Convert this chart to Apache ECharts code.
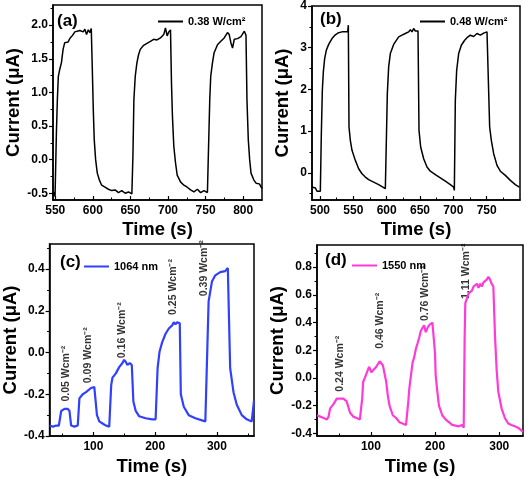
<!DOCTYPE html>
<html><head><meta charset="utf-8">
<script src="https://cdn.jsdelivr.net/npm/echarts@6/dist/echarts.min.js"></script>
<style>html,body{margin:0;padding:0;background:#fff}#c{width:526px;height:477px}</style>
</head><body><div id="c"></div><script>
// ---- Panel (a) ----
const timeA=[547,548.3,549.7,551.5,552.8,554.1,555.9,558.2,560.4,562.6,564.9,567.1,569.3,571.6,573.8,576,578.3,582.7,587.2,589.4,591.6,593.9,596.1,597.9,599.2,600.6,601.9,603.7,605.9,608.6,611.7,616.2,620.7,625.1,629.6,634.1,638.5,643,647.4,651.9,653.3,654.6,656.4,658.6,660.8,663.1,667.5,672,676.5,680.9,685.4,689.9,694.3,696.6,698.8,701,703.3,704.6,705.9,707.7,710,712.2,716.6,721.1,725.6,730,734.5,739,743.4,747.9,752.4,754.1,755.5,756.8,759.1,761.3,765.8,770.2,774.7,779.1,781.4,783.6,785.8,788.1,792.5,797,801.5,803.7,805,806.8,808.6,810.4,814,817.1,821.5,825];
const currA=[-0.53,-0.48,-0.55,0.39,0.89,1.24,1.34,1.44,1.64,1.74,1.76,1.75,1.80,1.83,1.86,1.90,1.91,1.92,1.90,1.94,1.86,1.93,1.89,1.95,1.39,0.74,0.29,0.0,-0.20,-0.30,-0.38,-0.41,-0.44,-0.46,-0.45,-0.49,-0.46,-0.50,-0.48,-0.51,0.05,0.89,1.24,1.44,1.56,1.64,1.70,1.73,1.76,1.79,1.78,1.81,1.86,1.96,1.84,1.90,1.93,1.14,0.64,0.20,-0.05,-0.23,-0.33,-0.38,-0.41,-0.45,-0.48,-0.44,-0.49,-0.46,-0.49,-0.48,0.89,1.24,1.44,1.59,1.71,1.76,1.81,1.89,1.86,1.74,1.66,1.79,1.80,1.83,1.91,1.85,0.89,0.29,0.0,-0.20,-0.30,-0.35,-0.36,-0.43];
const xTicksA=[550,600,650,700,750,800];
const yTicksA=[-0.5,0,0.5,1,1.5,2];
// ---- Panel (b) ----
const timeB=[488,490.5,493,495.5,498,500.5,502,503.5,505,507,509.5,513,518,523,528,533,541.5,542.5,543.5,545.5,548,553,558,563,568,573,580.5,588,593,598,599.5,601,603,605.5,610.5,618,623,628,633,635.5,638,640.5,643,645.5,647,648.5,651,655.5,660.5,665.5,673,680.5,688,695.5,700.5,701.5,703,705,708,712,717,720.5,725.5,730.5,735.5,740.5,745.5,750.5,753,754.5,757,760.5,765.5,770.5,778,785.5,793,799];
const currB=[-0.34,-0.38,-0.36,-0.44,-0.41,-0.44,0.94,1.98,2.42,2.74,2.94,3.08,3.22,3.31,3.36,3.38,3.38,3.54,1.10,0.78,0.54,0.30,0.10,-0.02,-0.10,-0.16,-0.22,-0.28,-0.33,-0.38,-0.42,1.90,2.54,2.86,3.08,3.26,3.30,3.34,3.38,3.43,3.38,3.46,3.40,3.43,3.40,1.02,0.62,0.34,0.14,0.04,-0.04,-0.12,-0.20,-0.28,-0.34,-0.42,1.74,2.46,2.86,3.06,3.18,3.24,3.30,3.27,3.34,3.30,3.35,3.38,3.34,1.10,0.78,0.46,0.18,0.04,-0.06,-0.18,-0.28,-0.34];
const xTicksB=[500,550,600,650,700,750];
const yTicksB=[0,1,2,3,4];
// ---- Panel (c) ----
const timeC=[29,34.4,39.7,44,46.2,47.8,53.1,58.5,61.2,63.9,69.2,74.6,75.7,77.3,82.7,88,96.1,101.4,103,104.1,105.7,109.5,114.8,120.2,125.6,127.2,128.8,130.9,136.3,141.7,147,149.7,152.4,155.1,158.8,162.1,163.1,164.7,168.5,173.9,184.6,195.3,200.7,202.3,203.9,207.1,211.4,216.8,222.1,227.5,230.2,232.9,235.6,238.2,239.8,241.5,246.3,254.3,265.1,275.8,281.2,283.8,286.5,291.9,297.3,305.3,313.3,317.6,318.7,321.4,326.8,332.1,340.2,348.2,356.3,359.5,360];
const currC=[-0.35,-0.355,-0.35,-0.35,-0.31,-0.28,-0.27,-0.27,-0.28,-0.35,-0.355,-0.35,-0.35,-0.22,-0.2,-0.19,-0.17,-0.165,-0.165,-0.17,-0.3,-0.33,-0.34,-0.35,-0.355,-0.355,-0.155,-0.12,-0.1,-0.07,-0.05,-0.035,-0.045,-0.06,-0.05,-0.06,-0.06,-0.235,-0.28,-0.305,-0.315,-0.32,-0.32,-0.32,-0.075,0.005,0.05,0.09,0.115,0.13,0.145,0.135,0.145,0.14,0.14,-0.2,-0.26,-0.3,-0.315,-0.325,-0.33,-0.33,0.245,0.34,0.37,0.385,0.39,0.405,0.40,-0.075,-0.19,-0.25,-0.3,-0.32,-0.33,-0.335,-0.23];
const xTicksC=[100,200,300];
const yTicksC=[-0.4,-0.2,0,0.2,0.4];
const annoTimeC=[55.8,92,147,229,278.5];
const annoCurrC=[-0.235,-0.147,-0.027,0.18,0.27];
const annoTextC=['0.05 Wcm\u207B\u00B2','0.09 Wcm\u207B\u00B2','0.16 Wcm\u207B\u00B2','0.25 Wcm\u207B\u00B2','0.39 Wcm\u207B\u00B2'];
// ---- Panel (d) ----
const timeD=[16,21.1,26.3,31.4,34,36.5,41.7,46.8,49.4,52,54.5,57.1,59.7,62.2,67.4,72.5,77.6,82.8,85.3,86.4,87.9,90.5,93,97.1,100.7,103.3,108.4,113.6,116.2,118.7,121.3,123.9,126.4,129,134.1,139.3,144.4,149.5,152.1,154.7,157.2,158.3,159.8,164.9,167.5,170.1,172.7,175.2,177.8,180.4,182.9,185.5,188.1,190.6,193.2,195.8,198.3,199.9,200.9,203.5,206,211.2,216.3,226.6,236.9,242,244.6,246.1,247.1,252.3,257.4,260,262.5,265.1,267.7,270.2,272.8,275.4,278,280.5,283.1,285.7,288.2,290.8,293.4,295.9,298.5,303.6,308.8,313.9,319,324.2,329.3,337];
const currD=[-0.27,-0.28,-0.29,-0.3,-0.28,-0.22,-0.19,-0.15,-0.14,-0.15,-0.14,-0.15,-0.15,-0.17,-0.25,-0.28,-0.29,-0.3,-0.29,-0.15,-0.03,0.0,0.01,0.08,0.04,0.05,0.08,0.12,0.11,0.09,0.08,-0.03,-0.13,-0.2,-0.27,-0.29,-0.32,-0.33,-0.34,-0.34,-0.34,-0.17,-0.08,0.11,0.15,0.21,0.25,0.29,0.34,0.35,0.38,0.33,0.36,0.38,0.37,0.40,0.41,0.18,0.02,-0.10,-0.20,-0.27,-0.30,-0.34,-0.35,-0.34,-0.36,0.30,0.54,0.61,0.63,0.66,0.65,0.68,0.65,0.68,0.66,0.69,0.69,0.71,0.73,0.71,0.68,0.66,0.30,0.06,-0.10,-0.22,-0.29,-0.33,-0.34,-0.35,-0.36,-0.39];
const xTicksD=[100,200,300];
const yTicksD=[-0.4,-0.2,0,0.2,0.4,0.6,0.8];
const annoTimeD=[52,113.6,184,248];
const annoCurrD=[-0.10,0.21,0.41,0.57];
const annoTextD=['0.24 Wcm\u207B\u00B2','0.46 Wcm\u207B\u00B2','0.76 Wcm\u207B\u00B2','1.11 Wcm\u207B\u00B2'];
// ---- minor tick positions ----
const xMinorA=[575,625,675,725,775];
const yMinorA=[-0.25,0.25,0.75,1.25,1.75,2.25];
const xMinorB=[525,575,625,675,725,775];
const yMinorB=[-0.5,0.5,1.5,2.5,3.5];
const xMinorC=[50,150,250,350];
const yMinorC=[-0.3,-0.1,0.1,0.3,0.5];
const xMinorD=[50,150,250];
const yMinorD=[-0.3,-0.1,0.1,0.3,0.5,0.7,0.9];

const FONT='"Liberation Sans", Arial, sans-serif';
const zip=(a,b)=>a.map((v,i)=>[v,b[i]]);

const grids=[
  {left:53,top:5,width:209,height:195},
  {left:312,top:5,width:208,height:195},
  {left:49,top:244,width:205,height:194},
  {left:317,top:245,width:206,height:194}
];
const panels=[
  {xmin:547,xmax:825,ymin:-0.6,ymax:2.3,xt:xTicksA,yt:yTicksA,xm:xMinorA,ym:yMinorA,yfmt:v=>v.toFixed(1),ygap:29,xgap:20},
  {xmin:488,xmax:800,ymin:-0.65,ymax:4,xt:xTicksB,yt:yTicksB,xm:xMinorB,ym:yMinorB,yfmt:v=>String(v),ygap:20,xgap:20},
  {xmin:29,xmax:360,ymin:-0.4,ymax:0.52,xt:xTicksC,yt:yTicksC,xm:xMinorC,ym:yMinorC,yfmt:v=>v.toFixed(1),ygap:28,xgap:21},
  {xmin:16,xmax:337,ymin:-0.42,ymax:0.96,xt:xTicksD,yt:yTicksD,xm:xMinorD,ym:yMinorD,yfmt:v=>v.toFixed(1),ygap:28,xgap:21}
];
const xAxes=[],yAxes=[];
const lab={color:'#000',fontFamily:FONT,fontWeight:'bold',fontSize:12};
const nameStyle={color:'#000',fontFamily:FONT,fontWeight:'bold',fontSize:18.5};
panels.forEach((p,g)=>{
  xAxes.push({gridIndex:g,type:'value',min:p.xmin,max:p.xmax,position:'bottom',
    name:'Time (s)',nameLocation:'middle',nameGap:p.xgap,nameTextStyle:nameStyle,
    axisLine:{show:true,onZero:false,lineStyle:{color:'#000',width:1.5}},
    axisTick:{show:true,inside:true,length:4,customValues:p.xt,lineStyle:{color:'#000',width:1.2}},
    axisLabel:{customValues:p.xt,margin:5,...lab},splitLine:{show:false}});
  xAxes.push({gridIndex:g,type:'value',min:p.xmin,max:p.xmax,position:'bottom',
    axisLine:{show:false,onZero:false},axisTick:{show:true,inside:true,length:2.5,customValues:p.xm,lineStyle:{color:'#000',width:1}},
    axisLabel:{show:false},splitLine:{show:false}});
  yAxes.push({gridIndex:g,type:'value',min:p.ymin,max:p.ymax,position:'left',
    name:'Current (\u03BCA)',nameLocation:'middle',nameGap:p.ygap,nameRotate:90,nameTextStyle:nameStyle,
    axisLine:{show:true,onZero:false,lineStyle:{color:'#000',width:1.5}},
    axisTick:{show:true,inside:false,length:4,customValues:p.yt,lineStyle:{color:'#000',width:1.2}},
    axisLabel:{customValues:p.yt,formatter:p.yfmt,margin:5,...lab},splitLine:{show:false}});
  yAxes.push({gridIndex:g,type:'value',min:p.ymin,max:p.ymax,position:'left',
    axisLine:{show:false,onZero:false},axisTick:{show:true,inside:false,length:2.5,customValues:p.ym,lineStyle:{color:'#000',width:1}},
    axisLabel:{show:false},splitLine:{show:false}});
});

function lineSeries(name,g,t,v,color,w){
  return {name,type:'line',xAxisIndex:2*g,yAxisIndex:2*g,data:zip(t,v),symbol:'none',showSymbol:false,
    lineStyle:{color,width:w},itemStyle:{color},silent:true,z:3};
}
function annoSeries(g,t,v,txt){
  return {type:'scatter',xAxisIndex:2*g,yAxisIndex:2*g,symbolSize:0,silent:true,
    data:t.map((x,i)=>[x,v[i],txt[i]]),
    label:{show:true,formatter:q=>q.data[2],rotate:90,position:[0,0],align:'left',verticalAlign:'middle',
      color:'#000',fontFamily:FONT,fontWeight:'bold',fontSize:10.5}};
}
const legTxt={color:'#000',fontFamily:FONT,fontWeight:'bold',fontSize:11};
const option={
  animation:false,
  backgroundColor:'#fff',
  grid:grids.map(g=>({...g,show:true,borderColor:'#000',borderWidth:1.5,backgroundColor:'transparent'})),
  xAxis:xAxes,yAxis:yAxes,
  title:[
    {text:'(a)',left:57,top:13},{text:'(b)',left:320,top:11},
    {text:'(c)',left:60,top:254},{text:'(d)',left:325,top:252}
  ].map(t=>({...t,padding:0,textStyle:{color:'#000',fontFamily:FONT,fontWeight:'bold',fontSize:17}})),
  legend:[
    {data:['0.38 W/cm\u00B2'],left:158,top:16},
    {data:['0.48 W/cm\u00B2'],left:420,top:16},
    {data:['1064 nm'],left:84,top:261},
    {data:['1550 nm'],left:352,top:260}
  ].map(l=>({...l,padding:0,icon:'rect',itemWidth:25,itemHeight:2,itemGap:4,textStyle:legTxt,selectedMode:false})),
  series:[
    lineSeries('0.38 W/cm\u00B2',0,timeA,currA,'#000',1.5),
    lineSeries('0.48 W/cm\u00B2',1,timeB,currB,'#000',1.5),
    lineSeries('1064 nm',2,timeC,currC,'#3040ff',2.2),
    lineSeries('1550 nm',3,timeD,currD,'#ff3ad8',2.2),
    annoSeries(2,annoTimeC,annoCurrC,annoTextC),
    annoSeries(3,annoTimeD,annoCurrD,annoTextD)
  ]
};
const chart=echarts.init(document.getElementById('c'));
chart.setOption(option);
</script></body></html>
